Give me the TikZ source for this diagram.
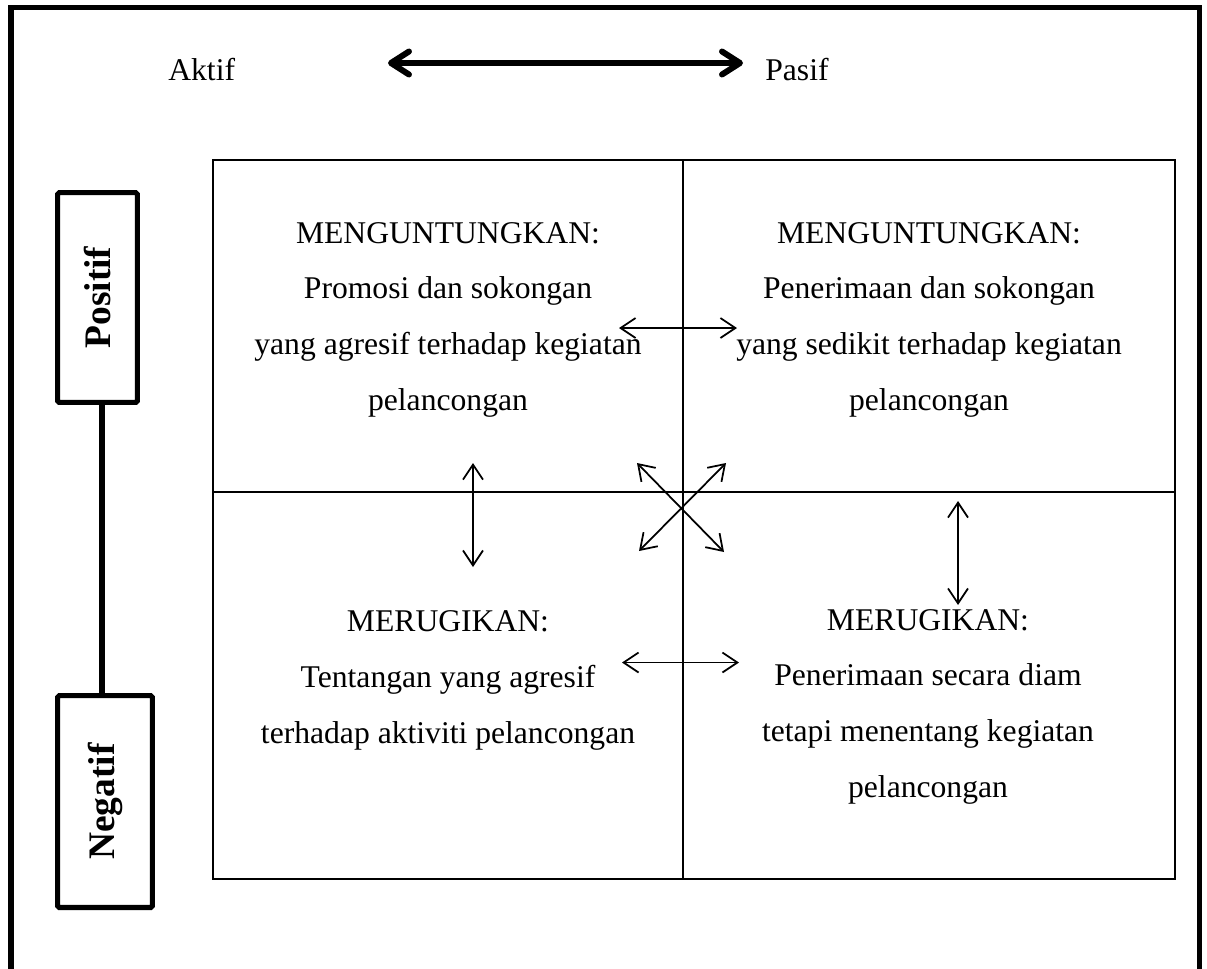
\documentclass[tikz,border=0pt]{standalone}
\usepackage{fontspec}
\setmainfont{Liberation Serif}
\definecolor{InkBlack}{RGB}{0,0,0}
\usetikzlibrary{positioning, arrows.meta, calc}
\tikzset{
  % Outer frame
  frame/.style={
    draw=InkBlack,
    line width=2.85pt
  },
  % Lines of the four quadrants
  gridline/.style={
    draw=InkBlack,
    line width=0.85pt
  },
  % Text inside a quadrant (placed at the baseline of its last line)
  quadtext/.style={
    align=center,
    inner sep=0pt,
    anchor=base,
    font=\fontsize{18}{31.6}\selectfont
  },
  % Aktif / Pasif labels
  axislabel/.style={
    inner sep=0pt,
    anchor=base west,
    font=\fontsize{18}{22}\selectfont
  },
  % Thick two-way arrow on top
  axisarrow/.style={
    draw=InkBlack,
    line width=3.4pt,
    {Straight Barb[round, length=0.36cm, width=0.46cm]}-{Straight Barb[round, length=0.36cm, width=0.46cm]}
  },
  % Positif / Negatif boxes
  sidebox/.style={
    draw=InkBlack,
    line width=2.85pt,
    rounded corners=1pt,
    rotate=90,
    inner sep=0pt,
    font=\fontsize{21.3}{24}\selectfont\bfseries
  },
  % Line between the side boxes
  sideline/.style={
    draw=InkBlack,
    line width=2.85pt
  },
  % Thin two-way arrow between quadrants
  linkarrow/.style={
    draw=InkBlack,
    line width=1pt,
    {Straight Barb[length=0.3cm, width=0.4cm]}-{Straight Barb[length=0.3cm, width=0.4cm]}
  }
}

\begin{document}
\begin{tikzpicture}[x=0.02cm, y=-0.02cm]
  \useasboundingbox (0,0) rectangle (1207,968);

  % frame, open at the bottom
  \draw[frame] (11,980) -- (11,7) -- (1199.5,7) -- (1199.5,980);

  % Aktif -- Pasif
  \node[axislabel] (aktif) at (168,80) {Aktif};
  \node[axislabel] (pasif) at (765,80) {Pasif};
  \coordinate (axl) at (388,63);
  \coordinate (axr) at (743,63);
  \draw[axisarrow] (axl) -- (axr);

  % Positif -- Negatif
  \node[sidebox, minimum width=4.2cm, minimum height=1.6cm] (pos) at (97.5,297.5) {Positif};
  \node[sidebox, minimum width=4.24cm, minimum height=1.9cm] (neg) at (105,801.5) {Negatif};
  \coordinate (linex) at (102,0);
  \draw[sideline] (pos.west -| linex) -- (neg.east -| linex);

  % quadrants
  \coordinate (tl) at (213,160);
  \coordinate (br) at (1175,879);
  \coordinate (mid) at (683,492);
  \draw[gridline] (tl) rectangle (br);
  \draw[gridline] (tl -| mid) -- (br -| mid);
  \draw[gridline] (tl |- mid) -- (br |- mid);

  \node[quadtext] (qa) at (448,410) {MENGUNTUNGKAN:\\Promosi dan sokongan\\yang agresif terhadap kegiatan\\pelancongan};
  \node[quadtext] (qb) at (929,410) {MENGUNTUNGKAN:\\Penerimaan dan sokongan\\yang sedikit terhadap kegiatan\\pelancongan};
  \node[quadtext] (qc) at (448,743) {MERUGIKAN:\\Tentangan yang agresif\\terhadap aktiviti pelancongan};
  \node[quadtext] (qd) at (928,797) {MERUGIKAN:\\Penerimaan secara diam\\tetapi menentang kegiatan\\pelancongan};

  % arrows between quadrants
  \foreach \n/\ax/\ay/\bx/\by in {ha/619/328/737/328, hb/622/662.5/739/662.5,
      va/473/463/473/567, vb/958/501/958/605,
      da/637/463/724/552, db/726/463/639/551} {
    \coordinate (\n1) at (\ax,\ay);
    \coordinate (\n2) at (\bx,\by);
    \draw[linkarrow] (\n1) -- (\n2);
  }
\end{tikzpicture}
\end{document}
